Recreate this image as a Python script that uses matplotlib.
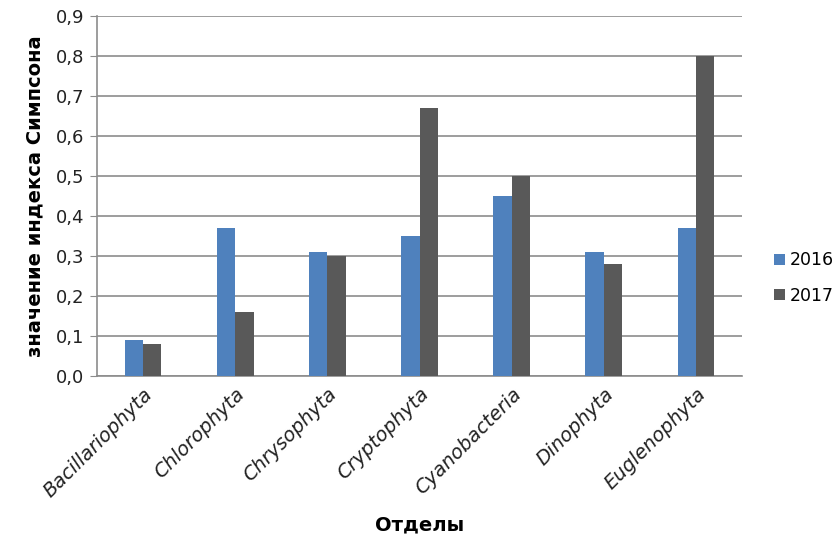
import matplotlib
matplotlib.use("Agg")
import matplotlib.pyplot as plt
import numpy as np

categories = ["Bacillariophyta", "Chlorophyta", "Chrysophyta", "Cryptophyta",
              "Cyanobacteria", "Dinophyta", "Euglenophyta"]
values_2016 = [0.09, 0.37, 0.31, 0.35, 0.45, 0.31, 0.37]
values_2017 = [0.08, 0.16, 0.30, 0.67, 0.50, 0.28, 0.80]
yticks = [0.0, 0.1, 0.2, 0.3, 0.4, 0.5, 0.6, 0.7, 0.8, 0.9]
ytick_labels = ["0,0", "0,1", "0,2", "0,3", "0,4", "0,5", "0,6", "0,7", "0,8", "0,9"]

plt.rcParams['font.family'] = ['DejaVu Sans']
fig = plt.figure(figsize=(8.36, 5.37), dpi=100)
ax = fig.add_axes([0.116, 0.2998, 0.7716, 0.6702])

x = np.arange(len(categories))
w = 0.2
b1 = ax.bar(x - w/2, values_2016, w, color="#4F81BD", label="2016", zorder=3)
b2 = ax.bar(x + w/2, values_2017, w, color="#595959", label="2017", zorder=3)

ax.set_xlim(-0.5, len(categories) - 0.5)
ax.set_ylim(0, 0.9)
ax.set_yticks(yticks)
ax.set_yticklabels(ytick_labels, fontsize=13, color="#222222")
ax.yaxis.grid(True, color="#8c8c8c", linewidth=1.2, zorder=0)
ax.set_axisbelow(True)
for s in ["top", "right"]:
    ax.spines[s].set_visible(False)
ax.spines["left"].set_color("#8c8c8c")
ax.spines["bottom"].set_color("#8c8c8c")
ax.spines["left"].set_linewidth(1.2)
ax.spines["bottom"].set_linewidth(1.2)
ax.tick_params(axis="y", length=5, color="#8c8c8c", direction="out", pad=4)
ax.tick_params(axis="x", length=0, pad=6)
ax.set_xticks(x)
ax.set_xticklabels(categories, rotation=45, ha="right", rotation_mode="anchor",
                   fontsize=14, style="italic", color="#222222")

ax.set_ylabel("значение индекса Симпсона", fontsize=14, fontweight="bold", labelpad=8)
ax.set_xlabel("Отделы", fontsize=14, fontweight="bold", labelpad=11)

fig.legend(handles=[b1, b2], labels=["2016", "2017"], loc="center left",
           bbox_to_anchor=(0.922, 0.482), frameon=False, fontsize=12.5,
           handlelength=0.6, handleheight=0.6, handletextpad=0.3, labelspacing=1.0,
           borderpad=0.2, borderaxespad=0.0)

fig.savefig("out.png", dpi=100)
